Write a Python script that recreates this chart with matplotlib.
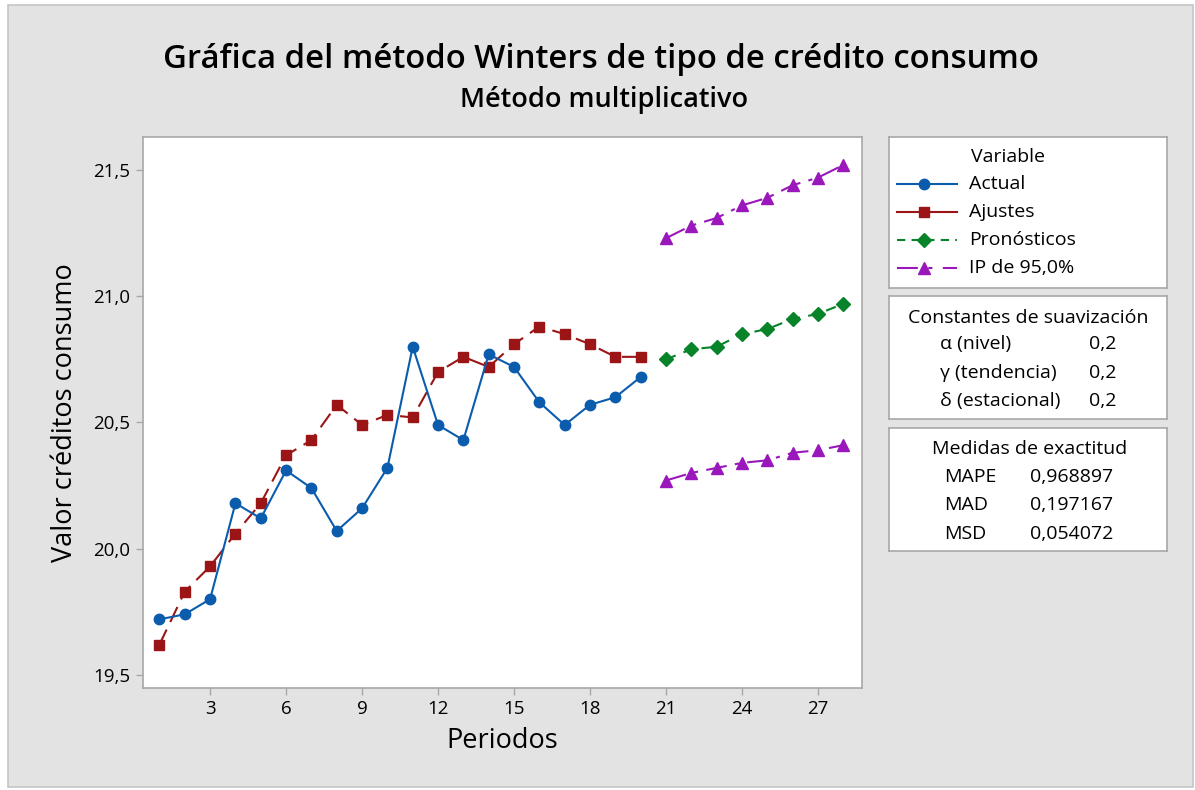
import numpy as np
import matplotlib.pyplot as plt
from matplotlib.patches import Rectangle
from matplotlib.lines import Line2D

plt.rcParams['font.family'] = ['Open Sans', 'DejaVu Sans']

# Data
periodos = np.arange(1, 21)
actual = [19.72, 19.74, 19.80, 20.18, 20.12, 20.31, 20.24, 20.07, 20.16, 20.32,
          20.80, 20.49, 20.43, 20.77, 20.72, 20.58, 20.49, 20.57, 20.60, 20.68]
ajustes = [19.62, 19.83, 19.93, 20.06, 20.18, 20.37, 20.43, 20.57, 20.49, 20.53,
           20.52, 20.70, 20.76, 20.72, 20.81, 20.88, 20.85, 20.81, 20.76, 20.76]
periodos_pron = np.arange(21, 29)
pronosticos = [20.75, 20.79, 20.80, 20.85, 20.87, 20.91, 20.93, 20.97]
ip_sup = [21.23, 21.28, 21.31, 21.36, 21.39, 21.44, 21.47, 21.52]
ip_inf = [20.27, 20.30, 20.32, 20.34, 20.35, 20.38, 20.39, 20.41]

suav_labels = ['α (nivel)', 'γ (tendencia)', 'δ (estacional)']
suav_values = ['0,2', '0,2', '0,2']
exact_labels = ['MAPE', 'MAD', 'MSD']
exact_values = ['0,968897', '0,197167', '0,054072']

c_actual = '#0B5CAD'
c_ajuste = '#9B1516'
c_pron = '#07832A'
c_ip = '#9A17BC'
bg = '#E3E3E3'
edge = '#A8A8A8'

W, H = 1195, 790
fig = plt.figure(figsize=(W / 100, H / 100), dpi=100, facecolor='white')

def fx(x):
    return x / W

def fy(y):
    return 1 - y / H

# gray background panel with border
fig.patches.append(Rectangle((fx(8), fy(787)), fx(1193 - 8), (787 - 5) / H,
                             transform=fig.transFigure, facecolor=bg,
                             edgecolor='#C6C6C6', lw=1.2, zorder=-10))

ax = fig.add_axes([fx(143), fy(688), fx(862 - 143), (688 - 137) / H])
ax.set_facecolor('white')

ax.plot(periodos, actual, color=c_actual, lw=1.5, marker='o', ms=7.5, zorder=4)
ax.plot(periodos, ajustes, color=c_ajuste, lw=1.5, ls=(0, (8, 4)), marker='s', ms=7.5, zorder=3)
ax.plot(periodos_pron, pronosticos, color=c_pron, lw=1.5, ls=(0, (5, 4)), marker='D', ms=7, zorder=3)
ax.plot(periodos_pron, ip_sup, color=c_ip, lw=1.5, ls=(0, (10, 4, 2, 4)), marker='^', ms=8.5, zorder=3)
ax.plot(periodos_pron, ip_inf, color=c_ip, lw=1.5, ls=(0, (10, 4, 2, 4)), marker='^', ms=8.5, zorder=3)

ax.set_xlim(0.35, 28.74)
ax.set_ylim(19.448, 21.631)
ax.set_xticks(np.arange(3, 28, 3))
ax.set_yticks([19.5, 20.0, 20.5, 21.0, 21.5])
ax.set_yticklabels(['19,5', '20,0', '20,5', '21,0', '21,5'])
ax.tick_params(direction='out', length=5, width=1, color=edge, labelsize=13.5, pad=4)
for s in ax.spines.values():
    s.set_color(edge)
    s.set_linewidth(1.2)

ax.set_xlabel('Periodos', fontsize=19.5, labelpad=6)
ax.set_ylabel('Valor créditos consumo', fontsize=19.5, labelpad=10)

fig.text(fx(601), fy(60), 'Gráfica del método Winters de tipo de crédito consumo',
         ha='center', va='center', fontsize=23.7, fontweight='semibold')
fig.text(fx(604), fy(100), 'Método multiplicativo', ha='center', va='center',
         fontsize=19.5, fontweight='semibold')

def box(y0, y1):
    b = fig.add_axes([fx(889), fy(y1), fx(1167 - 889), (y1 - y0) / H])
    b.set_xlim(889, 1167)
    b.set_ylim(y1, y0)
    b.set_xticks([])
    b.set_yticks([])
    for s in b.spines.values():
        s.set_color(edge)
        s.set_linewidth(1.2)
    return b

fs = 14

# legend box
lb = box(137, 288)
lb.text(1008, 157, 'Variable', ha='center', va='center', fontsize=fs)
leg_items = [('Actual', c_actual, '-', 'o', 7.5),
             ('Ajustes', c_ajuste, '-', 's', 7.5),
             ('Pronósticos', c_pron, (0, (4, 3)), 'D', 7),
             ('IP de 95,0%', c_ip, (0, (10, 5, 2, 5)), '^', 8.5)]
for i, (lab, c, ls, m, ms) in enumerate(leg_items):
    y = 184 + i * 28
    lb.add_line(Line2D([897, 957], [y, y], color=c, lw=1.5, ls=ls))
    lb.add_line(Line2D([924], [y], color=c, marker=m, ms=ms, ls='none'))
    lb.text(969, y, lab, ha='left', va='center', fontsize=fs)

# smoothing constants box
sb = box(296, 419)
sb.text(1028, 318, 'Constantes de suavización', ha='center', va='center', fontsize=fs)
for i, (lab, val) in enumerate(zip(suav_labels, suav_values)):
    y = 344 + i * 28.5
    sb.text(940, y, lab, ha='left', va='center', fontsize=fs)
    sb.text(1089, y, val, ha='left', va='center', fontsize=fs)

# accuracy box
eb = box(428, 551)
eb.text(1030, 449, 'Medidas de exactitud', ha='center', va='center', fontsize=fs)
for i, (lab, val) in enumerate(zip(exact_labels, exact_values)):
    y = 477 + i * 28.5
    eb.text(944, y, lab, ha='left', va='center', fontsize=fs)
    eb.text(1113, y, val, ha='right', va='center', fontsize=fs)

fig.savefig('out.png', dpi=100, facecolor='white')
